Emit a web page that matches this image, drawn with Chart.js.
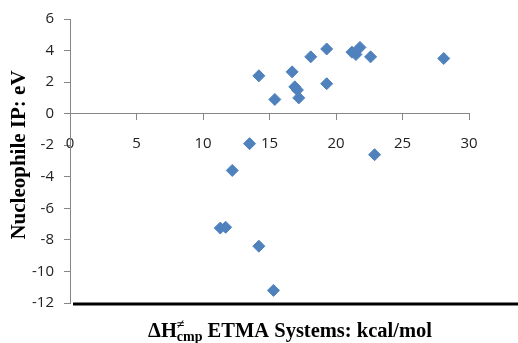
<!DOCTYPE html>
<html>
<head>
<meta charset="utf-8">
<script src="https://cdn.jsdelivr.net/npm/chart.js@4"></script>
<style>
    html, body { margin: 0; padding: 0; background: #fff; }
    #wrap { width: 518px; height: 343px; }
</style>
</head>
<body>
<div id="wrap"><canvas id="chart"></canvas></div>
<script>
// values
const barrier = [14.2, 13.5, 12.2, 11.3, 11.7, 14.2, 15.3, 15.4, 16.7, 16.9, 17.1, 17.2, 18.1, 19.3, 19.3, 21.2, 21.5, 21.8, 22.6, 28.1, 22.9];
const ionization = [2.4, -1.9, -3.6, -7.25, -7.2, -8.4, -11.2, 0.9, 2.65, 1.7, 1.5, 1.0, 3.6, 4.1, 1.9, 3.9, 3.75, 4.2, 3.6, 3.5, -2.6];

const xTitle = ['ΔH', '≠', 'cmp', ' ETMA Systems: kcal/mol'];
const yTitle = 'Nucleophile IP: eV';

const points = barrier.map((x, i) => ({ x: x, y: ionization[i] }));

const axisGray = '#868686';

// titles and the heavy bottom rule
const extras = {
    id: 'extras',
    afterDraw(chart) {
        const ctx = chart.ctx;
        const yScale = chart.scales.y;
        const yb = yScale.getPixelForValue(-12) + 1;

        ctx.save();
        ctx.strokeStyle = '#000';
        ctx.lineWidth = 3;
        ctx.beginPath();
        ctx.moveTo(chart.chartArea.left + 3, yb);
        ctx.lineTo(chart.width, yb);
        ctx.stroke();

        // y title
        ctx.fillStyle = '#000';
        ctx.font = 'bold 21px "Liberation Serif", "Times New Roman", serif';
        ctx.textAlign = 'center';
        ctx.textBaseline = 'middle';
        ctx.translate(20, 155);
        ctx.rotate(-Math.PI / 2);
        ctx.fillText(yTitle, 0, 0);
        ctx.restore();

        // x title with super/subscript
        ctx.save();
        ctx.fillStyle = '#000';
        const big = 'bold 20.5px "Liberation Serif", "Times New Roman", serif';
        const small = 'bold 14px "Liberation Serif", "Times New Roman", serif';
        ctx.textBaseline = 'alphabetic';
        ctx.font = big;
        const w0 = ctx.measureText(xTitle[0]).width;
        const w3 = ctx.measureText(xTitle[3]).width;
        ctx.font = small;
        const w1 = ctx.measureText(xTitle[1]).width;
        const w2 = ctx.measureText(xTitle[2]).width;
        const total = w0 + Math.max(w1, w2) + w3;
        let x = 290 - total / 2;
        const base = 337;
        ctx.font = big;
        ctx.fillText(xTitle[0], x, base);
        x += w0;
        ctx.font = small;
        ctx.fillText(xTitle[1], x, base - 8);
        ctx.fillText(xTitle[2], x, base + 4);
        x += Math.max(w1, w2);
        ctx.font = big;
        ctx.fillText(xTitle[3], x, base);
        ctx.restore();
    }
};

new Chart(document.getElementById('chart'), {
    type: 'scatter',
    data: {
        datasets: [
            {
                data: points,
                pointStyle: 'rectRot',
                pointRadius: 6,
                pointHoverRadius: 6,
                backgroundColor: '#4F81BD',
                borderColor: '#4F81BD',
                borderWidth: 1,
            },
        ],
    },
    options: {
        responsive: true,
        maintainAspectRatio: false,
        animation: false,
        layout: {
            padding: { left: 0, right: 49, top: 15, bottom: 40 },
        },
        plugins: {
            legend: { display: false },
            tooltip: { enabled: false },
        },
        scales: {
            x: {
                type: 'linear',
                position: { y: 0 },
                min: 0,
                max: 30,
                ticks: {
                    stepSize: 5,
                    padding: 15,
                    color: '#222',
                    font: { family: '"Open Sans", "Liberation Sans", sans-serif', size: 15 },
                },
                grid: {
                    drawOnChartArea: false,
                    drawTicks: true,
                    tickLength: 6,
                    color: axisGray,
                },
                border: { display: true, color: axisGray, width: 1 },
            },
            y: {
                type: 'linear',
                position: 'left',
                min: -12,
                max: 6,
                afterFit: scale => {
                    scale.width = 70;
                },
                ticks: {
                    stepSize: 2,
                    padding: 10,
                    color: '#222',
                    font: { family: '"Open Sans", "Liberation Sans", sans-serif', size: 15 },
                },
                grid: {
                    drawOnChartArea: false,
                    drawTicks: true,
                    tickLength: 6,
                    color: axisGray,
                },
                border: { display: true, color: axisGray, width: 1 },
            },
        },
    },
    plugins: [extras],
});
</script>
</body>
</html>
